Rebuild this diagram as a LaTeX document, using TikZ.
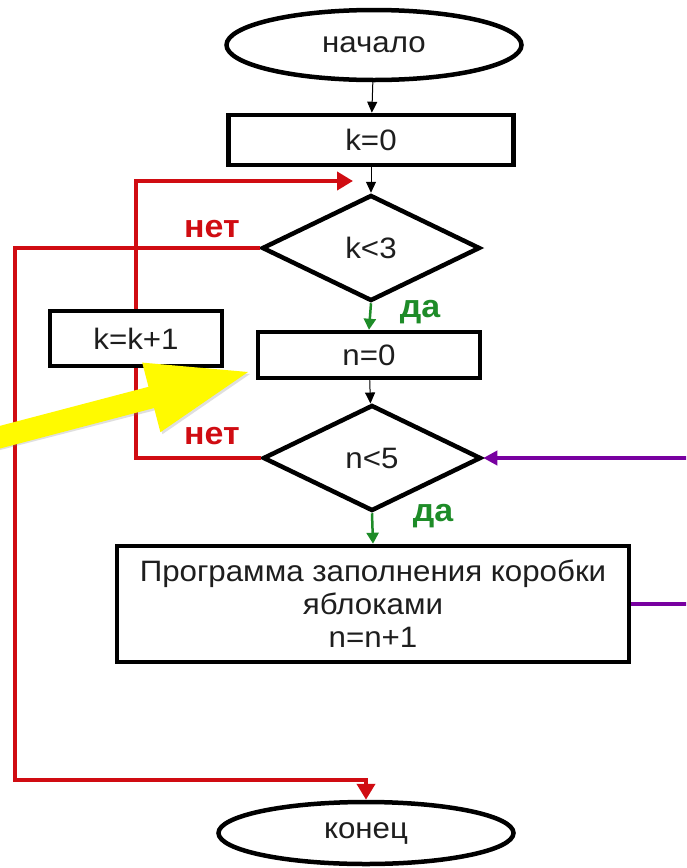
\documentclass[tikz,border=0pt]{standalone}
\usepackage{fontspec}
\setmainfont{Liberation Sans}[FakeStretch=1.06]
\usetikzlibrary{shapes.geometric,arrows.meta}
\definecolor{myred}{RGB}{208,12,18}
\definecolor{mygreen}{RGB}{30,140,40}
\definecolor{mypurple}{RGB}{120,0,160}
\definecolor{myyellow}{RGB}{255,250,0}
\definecolor{txt}{RGB}{30,30,30}
\begin{document}
\begin{tikzpicture}[x=1pt,y=-1pt,
  every node/.style={font=\fontsize{29.5}{33}\selectfont, text=txt},
  term/.style={ellipse, draw, line width=4.5pt, inner sep=0pt},
  proc/.style={rectangle, draw, line width=4.5pt, inner sep=0pt, align=center},
  dec/.style={diamond, draw, line width=4.5pt, inner sep=0pt, minimum width=218pt, minimum height=106pt},
  blk/.style={line width=1pt, -{Triangle[length=11pt,width=10pt]}},
  redl/.style={draw=myred, line width=4pt},
  redarr/.style={redl, -{Triangle[length=16pt,width=18pt]}},
  grn/.style={draw=mygreen, line width=2.5pt, -{Triangle[length=11pt,width=12pt]}},
  pur/.style={draw=mypurple, line width=3.5pt, -{Triangle[length=14pt,width=14pt]}},
  nolab/.style={font=\fontsize{32}{33}\selectfont\bfseries, text=myred},
  yeslab/.style={font=\fontsize{32}{33}\selectfont\bfseries, text=mygreen}]
\useasboundingbox (0,0) rectangle (686,868);
\clip (0,0) rectangle (686,868);
\fill[white] (0,0) rectangle (686,868);

\node[term, minimum width=295pt, minimum height=70pt] (start) at (374,45) {начало};
\node[proc, minimum width=285pt, minimum height=50pt] (k0) at (371,140) {k=0};
\node[dec] (d1) at (371,248) {k<3};
\node[proc, minimum width=172pt, minimum height=55pt] (kk) at (136,338.5) {k=k+1};
\node[proc, minimum width=222pt, minimum height=46pt] (n0) at (369,355) {n=0};
\node[dec] (d2) at (372,458) {n<5};
\node[proc, minimum width=512pt, minimum height=116pt] (prog) at (373,604)
  {Программа заполнения коробки\\яблоками\\n=n+1};
\node[term, minimum width=295pt, minimum height=62pt] (fin) at (366,833) {конец};

\node[nolab] (no1) at (212,229) {нет};
\node[nolab] (no2) at (212,436) {нет};
\node[yeslab] (yes1) at (420,312) {да};
\node[yeslab] (yes2) at (433,516) {да};

\coordinate (rin) at (353,181);
\coordinate (lft) at (15,780);
\coordinate (rt) at (700,530);

\draw[blk] (start) -- (k0);
\draw[blk] (k0) -- (d1);
\draw[blk] (n0) -- (d2);
\draw[redarr] (kk.north) |- (rin);
\draw[redarr] (d1.west) -| (lft) -| (fin.north);
\draw[redl] (d2.west) -| (kk.south);
\draw[grn] (d1.south) -- (n0.north);
\draw[grn] (d2.south) -- (prog.north);
\draw[pur] (prog.east) -| (rt) |- (d2.east);

% yellow pointer arrow
\fill[gray, opacity=0.25] (-9.2,452.4) -- (156.1,410.0) -- (162.4,434.2) -- (250,374) -- (144.2,364.6) -- (150.5,388.8) -- (-14.8,431.2) -- cycle;
\fill[myyellow] (-7.2,450.4) -- (154.1,408.0) -- (160.4,432.2) -- (248,372) -- (142.2,362.6) -- (148.5,386.8) -- (-12.8,429.2) -- cycle;
\end{tikzpicture}
\end{document}
